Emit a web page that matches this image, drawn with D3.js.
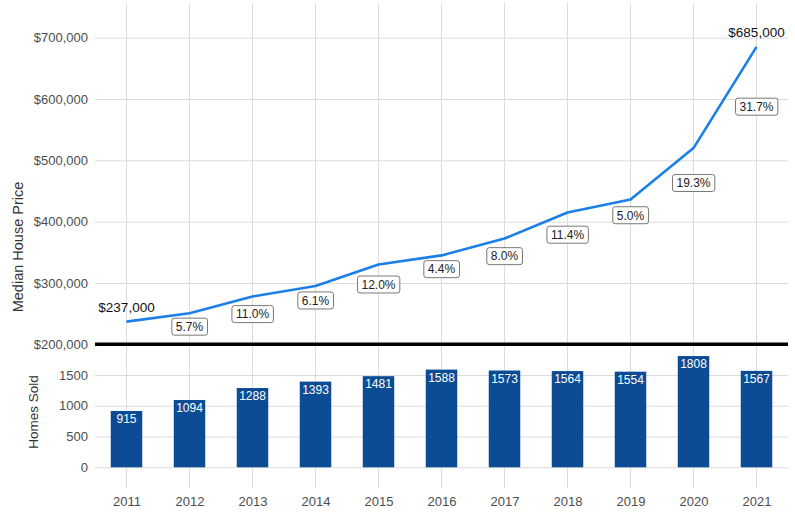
<!DOCTYPE html>
<html>
<head>
<meta charset="utf-8">
<script src="https://cdn.jsdelivr.net/npm/d3@7"></script>
<style>
  body { margin: 0; background: #fff; }
  svg { font-family: "Liberation Sans", Arial, sans-serif; }
  .tick text { fill: #4d4d4d; font-size: 13px; }
  .grid line { stroke: #dcdcdc; stroke-width: 1; }
</style>
</head>
<body>
<svg id="chart" width="795" height="512"></svg>
<script>
// data
var years = ["2011","2012","2013","2014","2015","2016","2017","2018","2019","2020","2021"]
var prices = [237000, 250500, 278000, 295000, 330000, 345000, 372500, 415000, 436000, 520000, 685000]
var changes = [null, "5.7%", "11.0%", "6.1%", "12.0%", "4.4%", "8.0%", "11.4%", "5.0%", "19.3%", "31.7%"]
var homesSold = [915, 1094, 1288, 1393, 1481, 1588, 1573, 1564, 1554, 1808, 1567]
var priceTicks = [200000, 300000, 400000, 500000, 600000, 700000]
var homesTicks = [0, 500, 1000, 1500]

const svg = d3.select("#chart")
const plotLeft = 95, plotRight = 788, plotTop = 3, plotBottom = 488

const data = years.map((y, i) => ({year: y, price: prices[i], change: changes[i], sold: homesSold[i]}))

const xScale = d3.scalePoint()
  .domain(years)
  .range([plotLeft, plotRight])
  .padding(0.5)

const yPrice = d3.scaleLinear()
  .domain([200000, 700000])
  .range([344.3, 37.7])

const yHomes = d3.scaleLinear()
  .domain([0, 1500])
  .range([467.3, 375])

// vertical grid lines, through both panels
svg.append("g").attr("class", "grid")
  .selectAll("line").data(years)
  .enter().append("line")
    .attr("x1", d => xScale(d)).attr("x2", d => xScale(d))
    .attr("y1", plotTop).attr("y2", plotBottom)

const dollar = d3.format("$,")

const yPriceAxis = d3.axisLeft(yPrice)
  .tickValues(priceTicks)
  .tickFormat(dollar)
  .tickSize(-(plotRight - plotLeft))
  .tickPadding(7)

const priceAxisG = svg.append("g")
  .attr("class", "grid")
  .attr("transform", `translate(${plotLeft},0)`)
  .call(yPriceAxis)
priceAxisG.select(".domain").remove()

const yHomesAxis = d3.axisLeft(yHomes)
  .tickValues(homesTicks)
  .tickFormat(d3.format("d"))
  .tickSize(-(plotRight - plotLeft))
  .tickPadding(7)

const homesAxisG = svg.append("g")
  .attr("class", "grid")
  .attr("transform", `translate(${plotLeft},0)`)
  .call(yHomesAxis)
homesAxisG.select(".domain").remove()

const xAxisG = svg.append("g")
  .attr("transform", `translate(0,${plotBottom})`)
  .call(d3.axisBottom(xScale).tickSize(0).tickPadding(8.5))
xAxisG.select(".domain").remove()

// bars
const barW = xScale.step() * 0.5
svg.append("g").selectAll("rect").data(data)
  .enter().append("rect")
    .attr("x", d => xScale(d.year) - barW / 2)
    .attr("width", barW)
    .attr("y", d => yHomes(d.sold))
    .attr("height", d => yHomes(0) - yHomes(d.sold))
    .attr("fill", "#0c4c94")

svg.append("g").selectAll("text").data(data)
  .enter().append("text")
    .attr("x", d => xScale(d.year))
    .attr("y", d => yHomes(d.sold) + 12.2)
    .attr("text-anchor", "middle")
    .attr("fill", "#fff")
    .style("font-size", "12px")
    .text(d => d.sold)

// panel separator at $200,000
svg.append("line")
  .attr("x1", plotLeft).attr("x2", plotRight)
  .attr("y1", yPrice(200000)).attr("y2", yPrice(200000))
  .attr("stroke", "#000")
  .attr("stroke-width", 3.5)

// price line
const line = d3.line()
  .x(d => xScale(d.year))
  .y(d => yPrice(d.price))

svg.append("path")
  .datum(data)
  .attr("d", line)
  .attr("fill", "none")
  .attr("stroke", "#1a7fe8")
  .attr("stroke-width", 2.6)
  .attr("stroke-linejoin", "round")

// start / end price labels
const ends = [data[0], data[data.length - 1]]
svg.append("g").selectAll("text").data(ends)
  .enter().append("text")
    .attr("x", d => xScale(d.year))
    .attr("y", d => yPrice(d.price) - 10)
    .attr("text-anchor", "middle")
    .attr("fill", "#111")
    .style("font-size", "13.5px")
    .text(d => dollar(d.price))

// % change labels, placed a bit below the middle of each segment
const pctData = data.filter(d => d.change !== null)
  .map(d => {
    const prev = data[years.indexOf(d.year) - 1]
    return Object.assign({}, d, {labelY: yPrice((prev.price + d.price) / 2 - 15000)})
  })

const pctG = svg.append("g").selectAll("g").data(pctData)
  .enter().append("g")
    .attr("transform", d => `translate(${xScale(d.year)},${d.labelY})`)

pctG.append("text")
  .attr("text-anchor", "middle")
  .attr("y", 4.3)
  .attr("fill", "#222")
  .style("font-size", "12px")
  .text(d => d.change)

pctG.each(function() {
  const g = d3.select(this)
  const bb = g.select("text").node().getBBox()
  g.insert("rect", "text")
    .attr("x", bb.x - 4)
    .attr("y", -8.5)
    .attr("width", bb.width + 8)
    .attr("height", 17)
    .attr("rx", 2.5)
    .attr("fill", "#fff")
    .attr("stroke", "#555")
    .attr("stroke-width", 0.8)
})

// axis titles
svg.append("text")
  .attr("transform", "translate(23,247) rotate(-90)")
  .attr("text-anchor", "middle")
  .attr("fill", "#333")
  .style("font-size", "14.5px")
  .text("Median House Price")

svg.append("text")
  .attr("transform", "translate(38,412) rotate(-90)")
  .attr("text-anchor", "middle")
  .attr("fill", "#333")
  .style("font-size", "13.5px")
  .text("Homes Sold")
</script>
</body>
</html>
